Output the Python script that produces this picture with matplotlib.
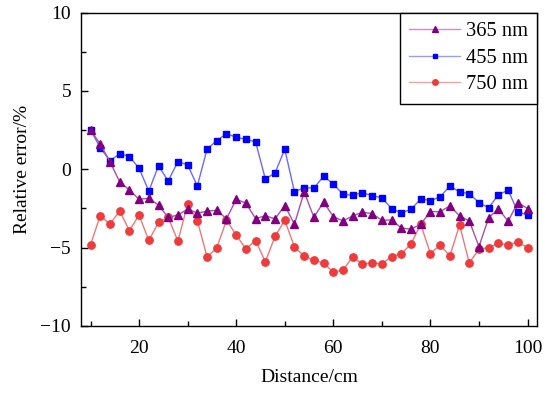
import matplotlib
matplotlib.use("Agg")
import matplotlib.pyplot as plt
from matplotlib.ticker import MultipleLocator

distance = [10, 12, 14, 16, 18, 20, 22, 24, 26, 28,
            30, 32, 34, 36, 38, 40, 42, 44, 46, 48,
            50, 52, 54, 56, 58, 60, 62, 64, 66, 68,
            70, 72, 74, 76, 78, 80, 82, 84, 86, 88,
            90, 92, 94, 96, 98, 100]

err_365 = [2.51, 1.6, 0.49, -0.81, -1.32, -1.92, -1.85, -2.3, -3.08, -2.92,
           -2.55, -2.8, -2.68, -2.62, -3.17, -1.92, -2.16, -3.16, -2.97, -3.17,
           -2.32, -3.51, -1.45, -3.07, -2.09, -3.03, -3.3, -2.98, -2.75, -2.83,
           -3.26, -3.24, -3.75, -3.83, -3.51, -2.71, -2.71, -2.34, -2.98, -3.3,
           -4.94, -3.09, -2.54, -3.32, -2.13, -2.51]

err_455 = [2.51, 1.38, 0.53, 1.0, 0.81, 0.06, -1.39, 0.21, -0.75, 0.49,
           0.27, -1.07, 1.28, 1.83, 2.27, 2.04, 1.91, 1.74, -0.62, -0.24,
           1.28, -1.45, -1.17, -1.21, -0.45, -0.94, -1.6, -1.66, -1.49, -1.7,
           -1.82, -2.51, -2.79, -2.56, -1.9, -2.0, -1.77, -1.07, -1.45, -1.56,
           -2.13, -2.47, -1.62, -1.34, -2.73, -2.92]

err_750 = [-4.83, -2.96, -3.51, -2.66, -3.92, -2.93, -4.55, -3.4, -3.07, -4.6,
           -2.22, -3.28, -5.6, -5.03, -3.25, -4.2, -5.09, -4.56, -5.91, -4.29,
           -3.26, -4.96, -5.56, -5.81, -6.0, -6.56, -6.45, -5.58, -6.07, -5.96,
           -6.05, -5.58, -5.41, -4.77, -3.51, -5.39, -4.83, -5.54, -3.56, -5.98,
           -5.11, -5.0, -4.73, -4.83, -4.66, -5.0]

plt.rcParams["font.family"] = ["Liberation Serif", "DejaVu Serif"]
plt.rcParams["font.size"] = 14
plt.rcParams["axes.linewidth"] = 1.0

fig = plt.figure(figsize=(5.46, 3.94), dpi=100)
ax = fig.add_axes([0.148, 0.173, 0.836, 0.795])

l750, = ax.plot(distance, err_750, "-", color="#f07878", lw=1.0,
                marker="o", ms=5.3, mfc="#ee3b3b", mec="#ee3b3b",
                label="750 nm")
l455, = ax.plot(distance, err_455, "-", color="#6a6aff", lw=1.0,
                marker="s", ms=4.8, mfc="#0000ff", mec="#0000ff",
                label="455 nm")
l365, = ax.plot(distance, err_365, "-", color="#a850a8", lw=1.0,
                marker="^", ms=5.8, mfc="#800080", mec="#800080",
                label="365 nm")

ax.set_xlim(8, 102)
ax.set_ylim(-10, 10)
ax.xaxis.set_major_locator(MultipleLocator(20))
ax.xaxis.set_minor_locator(MultipleLocator(10))
ax.yaxis.set_major_locator(MultipleLocator(5))
ax.yaxis.set_minor_locator(MultipleLocator(2.5))
ax.tick_params(which="both", direction="in", top=False, right=False)
ax.tick_params(which="major", length=5, width=1.0)
ax.tick_params(which="minor", length=3.5, width=1.0)
ax.tick_params(axis="x", which="major", pad=10)
ax.tick_params(axis="y", which="major", pad=7)

ax.set_xlabel("Distance/cm", labelpad=9)
ax.set_ylabel("Relative error/%", labelpad=7)

leg = ax.legend(handles=[l365, l455, l750], loc="upper right",
                borderaxespad=0, fancybox=False, edgecolor="black",
                framealpha=1, handlelength=2.45, handletextpad=0.3,
                markerscale=0.75, labelspacing=0.35, borderpad=0.45,
                fontsize=14.8)
leg.get_frame().set_linewidth(1.0)
light = {"365 nm": "#c890c8", "455 nm": "#9a9aff", "750 nm": "#f4a0a0"}
for line, text in zip(leg.get_lines(), leg.get_texts()):
    line.set_color(light[text.get_text()])

fig.savefig("out.png", dpi=100)
